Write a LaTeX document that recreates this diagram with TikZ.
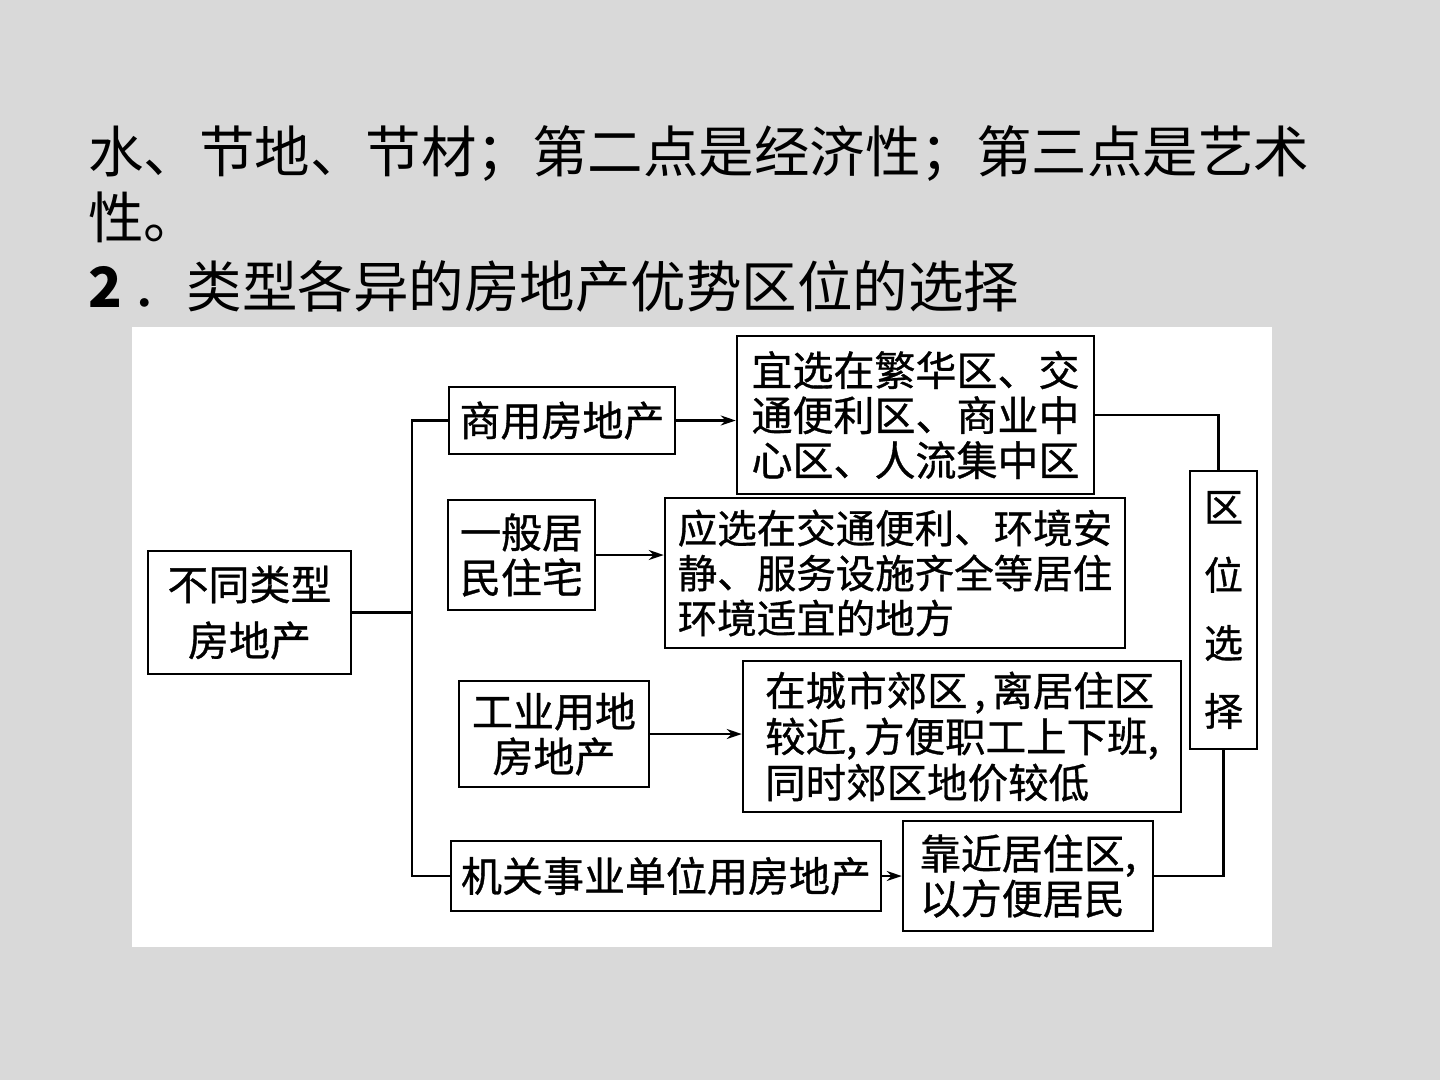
\documentclass[tikz,border=0pt]{standalone}
\usepackage{fontspec}
\setmainfont{Noto Sans CJK SC}
\newfontfamily\boxfont[FakeBold=0.8]{Noto Sans CJK SC}
\usetikzlibrary{arrows.meta}
\definecolor{bg}{HTML}{D9D9D9}
\begin{document}
\begin{tikzpicture}[x=1pt,y=-1pt,
  box/.style={draw, line width=2.5pt, inner sep=0pt, align=left, font=\boxfont\fontsize{41}{45}\selectfont},
  conn/.style={line width=2.2pt},
  arr/.style={conn, -{Stealth[length=15pt,width=10pt]}},
  head/.style={anchor=base west, inner sep=0pt, font=\fontsize{55.5}{60}\selectfont}]
\fill[bg] (0,0) rectangle (1440,1080);
\useasboundingbox (0,0) rectangle (1440,1080);
\fill[white] (132,327) rectangle (1272,947);

\node[head] (h1) at (88,172) {水、节地、节材；第二点是经济性；第三点是艺术};
\node[head] (h2) at (88,238) {性。};
\node[head] (h3) at (88,307) {\textbf{2}\,．类型各异的房地产优势区位的选择};

\node[box, align=center, minimum width=203pt, minimum height=123pt] (A) at (249.5,612.5) {不同类型\\[11pt]房地产};
\node[box, minimum width=226pt, minimum height=67pt] (B) at (562,420.5) {商用房地产};
\node[box, minimum width=147pt, minimum height=110pt] (C) at (521.5,555) {一般居\\民住宅};
\node[box, align=center, minimum width=190pt, minimum height=106pt] (D) at (554,734) {工业用地\\房地产};
\node[box, minimum width=430pt, minimum height=70pt] (E) at (666,876) {机关事业单位用房地产};
\node[box, minimum width=357pt, minimum height=158pt] (F) at (915.5,415) {宜选在繁华区、交\\通便利区、商业中\\心区、人流集中区};
\node[box, minimum width=460pt, minimum height=150pt, font=\boxfont\fontsize{39.5}{45}\selectfont] (G) at (895,573) {应选在交通便利、环境安\\静、服务设施齐全等居住\\环境适宜的地方};
\node[box, minimum width=438pt, minimum height=151pt, font=\boxfont\fontsize{40.5}{46}\selectfont] (H) at (962,736.5) {在城市郊区\,,\,离居住区\\较近,\,方便职工上下班,\\同时郊区地价较低};
\node[box, minimum width=250pt, minimum height=110pt] (I) at (1028,876) {靠近居住区,\\以方便居民};
\node[box, align=center, minimum width=67pt, minimum height=278pt, font=\boxfont\fontsize{39}{68}\selectfont] (J) at (1223.5,610) {区\\位\\选\\择};

\coordinate (t1) at (412,423);
\coordinate (t2) at (412,879);
\draw[conn] (A.east) -- (A.east -| t1);
\draw[conn] (B.west) -- (B.west -| t1) -- (E.west -| t1) -- (E.west);

\draw[arr] (B.east) -- (B.east -| F.west);
\draw[arr] (C.east) -- (C.east -| G.west);
\draw[arr] (D.east) -- (D.east -| H.west);
\draw[arr] (E.east) -- (E.east -| I.west);

\draw[conn] (F.east) -| ([xshift=-5pt]J.north);
\draw[conn] (I.east) -| (J.south);
\end{tikzpicture}
\end{document}
